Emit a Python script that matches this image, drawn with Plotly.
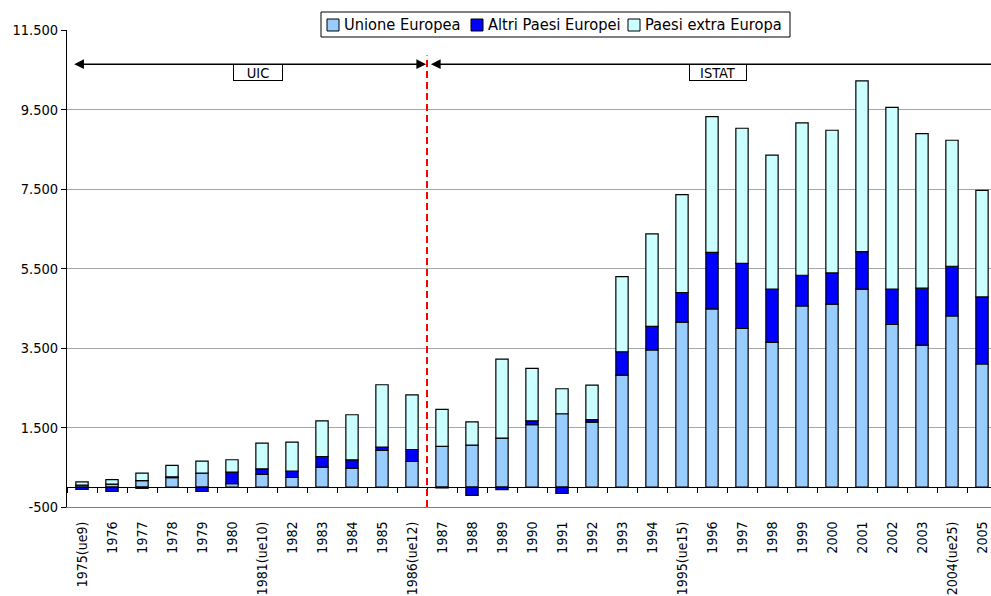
import plotly.graph_objects as go

# Years on the category axis (with EU enlargement markers)
anni = ["1975(ue9)", "1976", "1977", "1978", "1979", "1980", "1981(ue10)", "1982",
        "1983", "1984", "1985", "1986(ue12)", "1987", "1988", "1989", "1990",
        "1991", "1992", "1993", "1994", "1995(ue15)", "1996", "1997", "1998",
        "1999", "2000", "2001", "2002", "2003", "2004(ue25)", "2005"]

unione_europea = [50, 75, 165, 240, 350, 85, 317, 242, 503, 478, 922, 645,
                  1024, 1057, 1233, 1569, 1846, 1636, 2819, 3450, 4150, 4485,
                  3991, 3640, 4560, 4603, 4980, 4091, 3574, 4310, 3097]

altri_paesi_europei = [-60, -110, -30, 20, -110, 294, 143, 160, 268, 210, 84, 302,
                       -20, -210, -65, 100, -160, 60, 587, 595, 746, 1423,
                       1640, 1339, 770, 786, 946, 888, 1431, 1247, 1689]

paesi_extra_europa = [80, 115, 185, 285, 302, 310, 646, 730, 898, 1133, 1569, 1376,
                      931, 587, 1989, 1317, 629, 872, 1888, 2327, 2460, 3414,
                      3397, 3372, 3832, 3589, 4292, 4576, 3890, 3170, 2678]

# Value axis ticks (Italian thousands separator)
y_tick_vals = [-500, 1500, 3500, 5500, 7500, 9500, 11500]
y_tick_text = ["-500", "1.500", "3.500", "5.500", "7.500", "9.500", "11.500"]

FONT = "DejaVu Sans Condensed, DejaVu Sans, sans-serif"
W, H = 991, 596
M_L, M_R, M_T, M_B = 67, 0, 30, 89
PLOT_W, PLOT_H = W - M_L - M_R, H - M_T - M_B


def px_to_paper(px, py):
    """Pixel position on the page -> paper coordinates."""
    return (px - M_L) / PLOT_W, (H - M_B - py) / PLOT_H


fig = go.Figure()
serie = [
    ("Unione Europea", unione_europea, "#99CCFF"),
    ("Altri Paesi Europei", altri_paesi_europei, "#0000FF"),
    ("Paesi extra Europa", paesi_extra_europa, "#CCFFFF"),
]
for nome, valori, colore in serie:
    fig.add_trace(go.Bar(
        x=anni, y=valori, name=nome, showlegend=False,
        marker=dict(color=colore, line=dict(color="#000000", width=1.2)),
    ))

# Invisible helper trace so the zero-level category axis is drawn
fig.add_trace(go.Scatter(x=anni, y=[None] * len(anni), xaxis="x2",
                         showlegend=False, hoverinfo="skip", mode="markers"))

y_min, y_max = -500, 11500
zero_pos = (0 - y_min) / (y_max - y_min)
x_range = [-0.5, 30.3]

fig.update_layout(
    width=W, height=H,
    margin=dict(l=M_L, r=M_R, t=M_T, b=M_B, autoexpand=False),
    paper_bgcolor="white", plot_bgcolor="white",
    barmode="relative", bargap=0.59,
    font=dict(family=FONT, size=14, color="#000000"),
    showlegend=False,
    xaxis=dict(
        type="category", range=x_range, showgrid=False,
        showline=True, linecolor="#808080", linewidth=1,
        ticks="", tickangle=-90, tickfont=dict(family=FONT, size=14),
        ticklabelstandoff=8, zeroline=False, automargin=False,
    ),
    xaxis2=dict(
        type="category", categoryorder="array", categoryarray=anni,
        overlaying="x", anchor="free", position=zero_pos, range=x_range,
        showline=True, linecolor="#000000", linewidth=1,
        ticks="outside", tickson="boundaries", ticklen=5, tickcolor="#000000",
        showticklabels=False, showgrid=False, zeroline=False,
    ),
    yaxis=dict(
        range=[y_min, y_max], tickvals=y_tick_vals, ticktext=y_tick_text,
        showgrid=True, gridcolor="#A6A6A6", gridwidth=1,
        showline=True, linecolor="#000000", linewidth=1,
        ticks="outside", ticklen=5, tickcolor="#000000",
        zeroline=False, tickfont=dict(family=FONT, size=14.5), automargin=False,
    ),
)

# Legend box drawn at the top of the chart
bx0, by0 = px_to_paper(321, 37)
bx1, by1 = px_to_paper(790, 12)
fig.add_shape(type="rect", xref="paper", yref="paper", x0=bx0, x1=bx1, y0=by0, y1=by1,
              fillcolor="white", line=dict(color="#000000", width=1), layer="above")
legend_slots = [327, 471, 628]
for (nome, _, colore), sx in zip(serie, legend_slots):
    qx0, qy0 = px_to_paper(sx, 31)
    qx1, qy1 = px_to_paper(sx + 12, 19)
    fig.add_shape(type="rect", xref="paper", yref="paper", x0=qx0, x1=qx1, y0=qy0, y1=qy1,
                  fillcolor=colore, line=dict(color="#000000", width=1), layer="above")
    tx, ty = px_to_paper(sx + 15, 25)
    fig.add_annotation(x=tx, y=ty, xref="paper", yref="paper", xanchor="left",
                       yanchor="middle", text=nome, showarrow=False,
                       font=dict(family=FONT, size=16.3))

# Break between the two data sources
fig.add_shape(type="line", xref="x", yref="y", x0=11.5, x1=11.5, y0=y_min, y1=10860,
              line=dict(color="#FF0000", width=2, dash="7px,4px"), layer="above")

# Source ranges: UIC (until 1986) and ISTAT (from 1987)
arrow_y = 10640
fig.add_annotation(x=11.47, y=arrow_y, ax=-0.31, ay=arrow_y, xref="x", yref="y",
                   axref="x", ayref="y", text="", showarrow=True,
                   arrowhead=2, startarrowhead=2, arrowside="end+start",
                   arrowsize=1.3, startarrowsize=1.3, arrowwidth=1.5, arrowcolor="#000000")
fig.add_annotation(x=11.63, y=arrow_y, ax=31.5, ay=arrow_y, xref="x", yref="y",
                   axref="x", ayref="y", text="", showarrow=True,
                   arrowhead=2, arrowsize=1.3, arrowwidth=1.5, arrowcolor="#000000")

for testo, xc, w in [("UIC", 5.85, 48), ("ISTAT", 21.19, 56)]:
    fig.add_annotation(x=xc, y=arrow_y, xref="x", yref="y", yanchor="top",
                       text=testo, showarrow=False, width=w, height=15,
                       bgcolor="white", bordercolor="#000000", borderwidth=1, borderpad=0,
                       font=dict(family=FONT, size=14.5))

fig.write_html("out.html")
